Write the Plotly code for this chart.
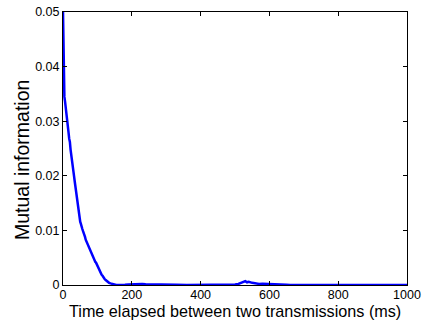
import plotly.graph_objects as go

time_ms = [0, 1, 2, 4, 6, 8, 10, 12, 14, 16, 18, 20, 22, 24, 26, 28, 30, 32, 34, 36, 38,
           40, 42, 44, 46, 48, 50, 52, 54, 56, 58, 60, 62, 64, 66, 68, 70, 72, 74, 76,
           78, 80, 82, 84, 86, 88, 90, 92, 94, 96, 98, 100, 103, 106, 109, 112, 115,
           118, 121, 124, 127, 130, 134, 138, 142, 146, 150, 155,
           160, 170, 180, 190, 200, 210, 220, 230, 240, 250, 260, 280, 300, 330, 360,
           400, 440, 480, 500, 510, 520, 525, 530, 535, 540, 550, 560, 570, 580, 590,
           600, 620, 640, 650, 660, 700, 800, 900, 1000]
mutual_info = [0.0500, 0.0420, 0.0360, 0.0345, 0.0336, 0.0322, 0.0312, 0.0300, 0.0292,
               0.0280, 0.0268, 0.0262, 0.0248, 0.0240, 0.0228, 0.0222, 0.0208, 0.0200,
               0.0190, 0.0180, 0.0174, 0.0160, 0.0150, 0.0142, 0.0130, 0.0126, 0.0116,
               0.0112, 0.0109, 0.0103, 0.0099, 0.0096, 0.0090, 0.0088, 0.0083, 0.0080,
               0.0078, 0.0073, 0.0071, 0.0067, 0.0066, 0.0061, 0.0060, 0.0056, 0.0052,
               0.0051, 0.0048, 0.0046, 0.0042, 0.0041, 0.0038, 0.0034,
               0.0031, 0.0026, 0.0024, 0.0019, 0.0017, 0.0013, 0.0011, 0.0009,
               0.0007, 0.0006, 0.0004, 0.0003, 0.0002, 0.0001, 0.00005, 0.0,
               0.00002, 0.0, 0.00005, 0.0001, 0.00015, 0.0002, 0.00018, 0.0002, 0.00012,
               0.0001, 0.00005, 0.00002, 0.0, 0.00003, 0.0, 0.00002, 0.0, 0.00005, 0.0001,
               0.0002, 0.0004, 0.0006, 0.0007, 0.0005, 0.0006, 0.0004, 0.0003, 0.0002,
               0.00025, 0.0002, 0.00015, 0.0001, 0.00008, 0.00003, 0.0, 0.0, 0.0, 0.0, 0.0]

x_ticks = [0, 200, 400, 600, 800, 1000]
y_ticks = [0, 0.01, 0.02, 0.03, 0.04, 0.05]
y_tick_text = ["0", "0.01", "0.02", "0.03", "0.04", "0.05"]

FONT = "Liberation Sans, Arial"

fig = go.Figure()
fig.add_trace(go.Scatter(x=time_ms, y=mutual_info, mode="lines",
                         line=dict(color="#0000FF", width=2.5), showlegend=False))

axis_common = dict(showline=True, linecolor="black", linewidth=1, mirror="ticks",
                   ticks="inside", ticklen=4, tickcolor="black", showgrid=False,
                   zeroline=False, automargin=False,
                   tickfont=dict(family=FONT, size=12.5, color="black"))

fig.update_layout(
    width=427, height=322,
    margin=dict(l=63, r=20, t=12, b=37),
    paper_bgcolor="white", plot_bgcolor="white",
    xaxis=dict(range=[0, 1000], tickvals=x_ticks, ticktext=[str(v) for v in x_ticks],
               ticklabelstandoff=-2, **axis_common),
    yaxis=dict(range=[0, 0.05], tickvals=y_ticks, ticktext=y_tick_text, **axis_common),
    annotations=[
        dict(text="Mutual information", textangle=-90, showarrow=False,
             xref="paper", yref="paper", x=-0.119, y=0.458,
             xanchor="center", yanchor="middle",
             font=dict(family=FONT, size=19.5, color="black")),
        dict(text="Time elapsed between two transmissions (ms)", showarrow=False,
             xref="paper", yref="paper", x=0.5, y=-0.136,
             xanchor="center", yanchor="bottom",
             font=dict(family=FONT, size=16.2, color="black")),
    ],
)

fig.write_html("out.html")
